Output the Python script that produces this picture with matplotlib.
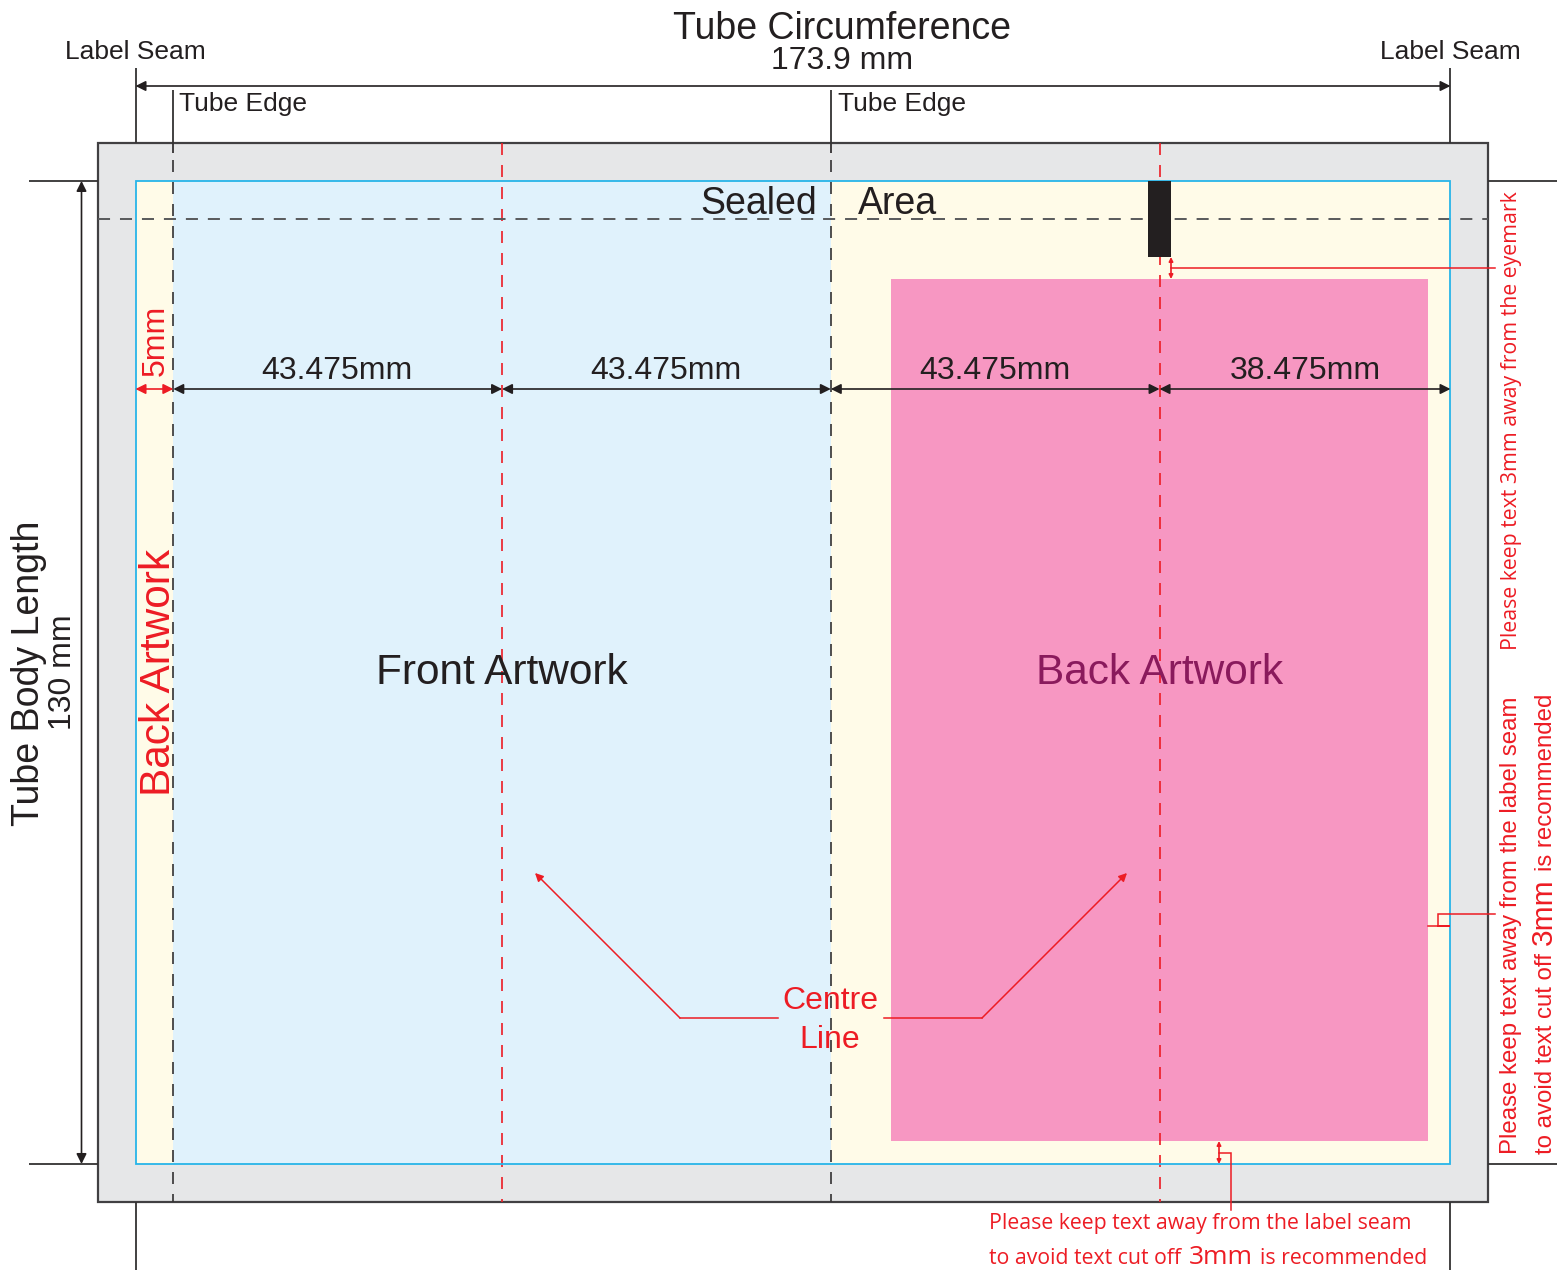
import matplotlib
matplotlib.use("Agg")
import matplotlib.pyplot as plt
from matplotlib.patches import Rectangle

# tube layout, all in mm
circumference = 173.9
body_length = 130
bleed = 5
panel_edges = [5, 48.475, 91.95, 135.425, 173.9]
panel_labels = ["43.475mm", "43.475mm", "43.475mm", "38.475mm"]
panel_label_x = [26.65, 70.15, 113.6, 154.65]
sealed_y = 125
pink_box = [99.9, 3, 71, 114]
eyemark = [133.95, 120, 3.05, 10]

BLACK = "#231f20"
RED = "#ed1c24"
SCALE = 7.5618
X0, Y0 = 135.5, 1164

def mx(p):
    return (p - X0) / SCALE

def my(p):
    return (Y0 - p) / SCALE

fig = plt.figure(figsize=(15.57, 12.73), dpi=100)
ax = fig.add_axes([0, 0, 1, 1])
ax.set_xlim(mx(0), mx(1557))
ax.set_ylim(my(1273), my(0))
ax.axis("off")

# coloured areas
ax.add_patch(Rectangle((-bleed, -bleed), circumference + 2 * bleed, body_length + 2 * bleed,
                       fc="#e6e7e8", ec="#414042", lw=1.6, zorder=1))
ax.add_patch(Rectangle((0, 0), circumference, body_length, fc="#fffbe8", ec="none", zorder=2))
ax.add_patch(Rectangle((panel_edges[0], 0), panel_edges[2] - panel_edges[0], body_length,
                       fc="#e0f2fc", ec="none", zorder=3))
ax.add_patch(Rectangle(pink_box[:2], pink_box[2], pink_box[3], fc="#f797c2", ec="none", zorder=3))
ax.add_patch(Rectangle((0, 0), circumference, body_length, fc="none", ec="#27b5e8", lw=1.3, zorder=6))
ax.add_patch(Rectangle(eyemark[:2], eyemark[2], eyemark[3], fc=BLACK, ec="none", zorder=7))

# fold and centre lines, dashes start at the top
ytop, ybot = body_length + bleed, -bleed
for x in [panel_edges[0], panel_edges[2]]:
    ax.plot([x, x], [my(160), ybot], color="#333132", lw=1.2, ls=(0, (7.2, 6)), zorder=5)
for x in [panel_edges[1], panel_edges[3]]:
    ax.plot([x, x], [ytop, ybot], color=RED, lw=1.2, ls=(0, (7.2, 6)), zorder=5)
ax.plot([-bleed, circumference + bleed], [sealed_y, sealed_y], color="#58595b", lw=1.4,
        ls=(0, (6.2, 5.1)), zorder=5)

# extension lines
ext = dict(color="#333132", lw=1.3, zorder=4, solid_capstyle="butt")
ax.plot([0, 0], [ytop, my(68)], **ext)
ax.plot([circumference, circumference], [ytop, my(68)], **ext)
ax.plot([panel_edges[0]] * 2, [my(153), my(90)], **ext)
ax.plot([panel_edges[2]] * 2, [my(153), my(90)], **ext)
ax.plot([0, 0], [ybot, my(1270)], **ext)
ax.plot([circumference, circumference], [ybot, my(1270)], **ext)
for y in [0, body_length]:
    ax.plot([mx(29), -bleed], [y, y], **ext)
    ax.plot([circumference + bleed, mx(1557)], [y, y], **ext)

def arrow(p0, p1, color=BLACK, style="<|-|>", scale=15, lw=1.2):
    ax.annotate("", xy=p1, xytext=p0, zorder=8,
                arrowprops=dict(arrowstyle=style, color=color, lw=lw, mutation_scale=scale,
                                shrinkA=0, shrinkB=0))

arrow((0, my(86)), (circumference, my(86)))
arrow((mx(81.5), 0), (mx(81.5), body_length))
dim_y = my(389)
for a, b in zip(panel_edges[:-1], panel_edges[1:]):
    arrow((a, dim_y), (b, dim_y))
arrow((0, dim_y), (panel_edges[0], dim_y), color=RED)

# red leaders
red = dict(color=RED, lw=1.1, zorder=8, solid_joinstyle="miter")
arrow((mx(1171), my(257)), (mx(1171), my(279)), color=RED, scale=6)
ax.plot([mx(1171), mx(1495)], [my(268), my(268)], **red)
ax.plot([mx(1428), mx(1450), mx(1438), mx(1438), mx(1495)],
        [my(926), my(926), my(926), my(914), my(914)], **red)
arrow((mx(1219), my(1141)), (mx(1219), my(1164)), color=RED, scale=6)
ax.plot([mx(1219), mx(1231), mx(1231)], [my(1153), my(1153), my(1210)], **red)
ax.plot([mx(778), mx(680)], [my(1018), my(1018)], **red)
ax.plot([mx(884), mx(982)], [my(1018), my(1018)], **red)
arrow((mx(680), my(1018)), (mx(535), my(873)), color=RED, style="-|>", scale=12, lw=1.1)
arrow((mx(982), my(1018)), (mx(1127), my(873)), color=RED, style="-|>", scale=12, lw=1.1)

SANS = "Liberation Sans"
MYRIAD = "Open Sans"

def label(px, py, s, size, color=BLACK, family=SANS, rot=0, ha="center", va="center"):
    ax.text(mx(px), my(py), s, fontsize=size, color=color, family=family, rotation=rot,
            ha=ha, va=va, zorder=9, rotation_mode="anchor")

label(842, 29, "Tube Circumference", 27)
label(842, 61, "173.9 mm", 23)
label(135, 52, "Label Seam", 19)
label(1450, 52, "Label Seam", 19)
label(179, 104, "Tube Edge", 19, ha="left")
label(838, 104, "Tube Edge", 19, ha="left")
label(759, 204, "Sealed", 27)
label(897, 204, "Area", 27)
for x, s in zip(panel_label_x, panel_labels):
    label(X0 + x * SCALE, 371, s, 23)
label(156, 340, "5mm", 23, color=RED, rot=90)
label(159, 672, "Back Artwork", 30.5, color=RED, rot=90)
label(29, 673, "Tube Body Length", 27, rot=90)
label(63, 672, "130 mm", 23, rot=90)
label(502, 673, "Front Artwork", 30.5)
label(1160, 673, "Back Artwork", 30.5, color="#8a1a5c")
label(830, 1001, "Centre", 23, color=RED)
label(830, 1040, "Line", 23, color=RED)

# notes
label(989, 1224, "Please keep text away from the label seam", 15.3, color=RED, family=MYRIAD, ha="left")
label(989, 1259, "to avoid text cut off", 15.3, color=RED, family=MYRIAD, ha="left")
label(1189, 1258, "3mm", 19, color=RED, family=MYRIAD, ha="left")
label(1260, 1259, "is recommended", 15.3, color=RED, family=MYRIAD, ha="left")
label(1512, 650, "Please keep text 3mm away from the eyemark", 15.3, color=RED, family=MYRIAD, rot=90, ha="left")
label(1517, 1154, "Please keep text away from the label seam", 17.3, color=RED, rot=90, ha="left", va="baseline")
label(1552, 1154, "to avoid text cut off", 17.3, color=RED, rot=90, ha="left", va="baseline")
label(1552, 945, "3mm", 21.5, color=RED, rot=90, ha="left", va="baseline")
label(1552, 871, "is recommended", 17.3, color=RED, rot=90, ha="left", va="baseline")

fig.savefig("out.png", dpi=100)
